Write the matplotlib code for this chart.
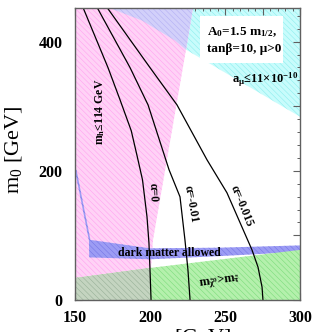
import matplotlib
matplotlib.use('Agg')
import matplotlib.pyplot as plt
from matplotlib.patches import Polygon, Rectangle
from matplotlib.ticker import MultipleLocator

plt.rcParams['font.family'] = ['Liberation Serif', 'DejaVu Serif']
plt.rcParams['mathtext.fontset'] = 'custom'
plt.rcParams['mathtext.rm'] = 'Liberation Serif'
plt.rcParams['mathtext.it'] = 'Liberation Serif:italic'
plt.rcParams['mathtext.bf'] = 'Liberation Serif:bold'
plt.rcParams['mathtext.default'] = 'bf'
plt.rcParams['hatch.linewidth'] = 0.4

# constraint regions, (m_1/2, m_0) corners
pink_x = [150, 228.7, 224, 202, 200.7, 200, 150]
pink_y = [453, 453, 387.6, 93, 49.6, 0, 0]
lav_x = [172, 194.7, 216.7, 224, 228.7]
lav_y = [453, 432.6, 401.6, 387.6, 453]
cyan_x = [228.7, 300, 300, 224]
cyan_y = [453, 453, 283.7, 387.6]
dm_x = [150, 151, 160.3, 200, 246.7, 300, 300, 246.7, 200, 159.5, 159.3, 150]
dm_y = [201.6, 201.6, 93, 80, 81, 84.5, 74.4, 68, 63, 66, 92, 200]
green_x = [150, 150, 200, 300, 300]
green_y = [0, 34, 49.6, 77.5, 0]
gray_x = [150, 150, 200, 200]
gray_y = [0, 34, 49.6, 0]

# m_h contours for different alpha
a0_x = [155.3, 172, 180, 187.5, 191.5, 195, 198, 199.3, 200, 200.7]
a0_y = [453, 359.7, 310, 262, 222, 186, 128.7, 88.4, 46.5, 0]
a1_x = [164.7, 186.7, 198.7, 212.7, 220, 223.3, 225.3, 226.7]
a1_y = [453, 359.7, 302, 201.6, 159.7, 93, 46.5, 0]
a2_x = [171.3, 200, 218, 238, 251.3, 261.3, 268, 272, 274.7, 275.3]
a2_y = [453, 359.7, 302, 217, 166, 113, 77.5, 51, 20, 0]

xticks_lab = [150, 200, 250, 300]
yticks_lab = [0, 200, 400]

fig = plt.figure(figsize=(3.14, 3.32), dpi=100)
ax = fig.add_axes([75/314, 32/332, 225/314, 292/332])

def region(xs, ys, face, hatchc, z):
    p = Polygon(list(zip(xs, ys)), closed=True, facecolor=face, edgecolor=hatchc,
                hatch='\\\\\\\\\\\\', linewidth=0, zorder=z)
    ax.add_patch(p)

region(cyan_x, cyan_y, '#c8fcfc', '#8eeeee', 1)
region(pink_x, pink_y, '#ffd2f6', '#ffa2f0', 2)
region(lav_x, lav_y, '#d2d0fa', '#b4b0f4', 3)
region(dm_x, dm_y, '#9c9cf4', '#7676e6', 4)
region(green_x, green_y, '#b4f0ac', '#7cdc7c', 5)
region(gray_x, gray_y, '#c4d4c0', '#98b098', 6)

ax.add_patch(Rectangle((233.3, 367), 55.4, 73, facecolor='white', edgecolor='none', zorder=7))

for xs, ys in [(a0_x, a0_y), (a1_x, a1_y), (a2_x, a2_y)]:
    ax.plot(xs, ys, color='black', lw=0.9, zorder=8)

bold = dict(fontweight='bold', zorder=9)
ax.text(238, 414, r'A$_0$=1.5 m$_{1/2}$,', fontsize=9.5, va='center', **bold)
ax.text(238, 388, 'tanβ=10, μ>0', fontsize=9.5, va='center', **bold)
ax.text(276.7, 341, r'a$_\mu$≤11×10$^{-10}$', fontsize=9, ha='center', va='center', **bold)
ax.text(166.7, 292, r'm$_h$≤114 GeV', fontsize=8.5, rotation=90, ha='center', va='center', **bold)
ax.text(212.7, 72.5, 'dark matter allowed', fontsize=8.5, ha='center', va='center', **bold)
ax.text(246.7, 29.5, r'm$_{\tilde{\chi}^0}$>m$_{\tilde{\tau}}$', fontsize=9, rotation=8,
        ha='center', va='center', **bold)
ax.text(202, 166, 'α=0', fontsize=8.5, rotation=-88, ha='center', va='center', **bold)
ax.text(227.3, 149, 'α=-0.01', fontsize=8.5, rotation=-80, ha='center', va='center', **bold)
ax.text(261, 146, 'α=-0.015', fontsize=8.5, rotation=-68, ha='center', va='center', **bold)

ax.set_xlim(150, 300)
ax.set_ylim(0, 452)
ax.xaxis.set_major_locator(MultipleLocator(25))
ax.xaxis.set_minor_locator(MultipleLocator(5))
ax.yaxis.set_major_locator(MultipleLocator(100))
ax.yaxis.set_minor_locator(MultipleLocator(20))
ax.xaxis.set_major_formatter(plt.FuncFormatter(lambda v, p: f'{int(v)}' if int(v) in xticks_lab else ''))
ax.yaxis.set_major_formatter(plt.FuncFormatter(lambda v, p: f'{int(v)}' if int(v) in yticks_lab else ''))
ax.tick_params(which='both', direction='in', top=True, right=True, color='#606060')
ax.tick_params(which='major', length=5, width=0.8)
ax.tick_params(which='minor', length=2.5, width=0.7)
ax.tick_params(axis='x', pad=7)
ax.tick_params(axis='y', pad=9)
for lab in ax.get_xticklabels() + ax.get_yticklabels():
    lab.set_fontweight('bold')
    lab.set_fontsize(11.5)
for s in ax.spines.values():
    s.set_color('#606060')
    s.set_linewidth(1)
    s.set_zorder(10)

fig.text(14/314, 1 - 150/332, r'm$_{\mathrm{0}}$ [GeV]', fontsize=16, rotation=90,
         ha='center', va='center', fontweight='normal')
# x title sits partly below the canvas edge, as in the original
fig.text(181/314, 1 - 327/332, r'm$_{\mathrm{1/2}}$ [GeV]', fontsize=16,
         ha='center', va='top', fontweight='normal')

fig.savefig('out.png', dpi=100)
